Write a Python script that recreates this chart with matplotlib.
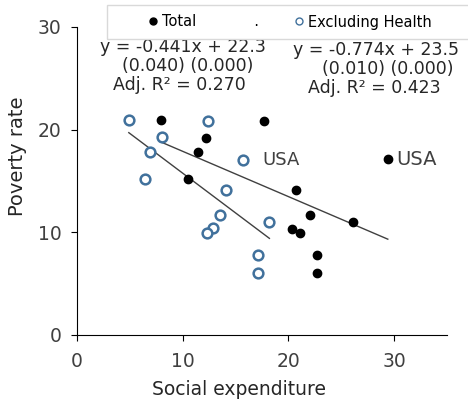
import matplotlib.pyplot as plt
from matplotlib.lines import Line2D
from matplotlib.patches import Rectangle

# Total social expenditure vs poverty rate
total_x = [7.9, 12.2, 17.7, 11.4, 10.5, 20.7, 22.0, 26.1, 20.3, 21.1, 22.7, 22.7, 29.4]
total_y = [20.9, 19.2, 20.8, 17.8, 15.2, 14.1, 11.7, 11.0, 10.3, 9.9, 7.8, 6.0, 17.1]

# Excluding health expenditure
excl_x = [4.9, 12.4, 8.0, 6.9, 6.4, 15.7, 14.1, 13.5, 12.9, 12.3, 18.2, 17.1, 17.1]
excl_y = [20.9, 20.8, 19.3, 17.8, 15.2, 17.0, 14.1, 11.7, 10.4, 9.9, 11.0, 7.8, 6.0]

# regression fits as printed on the chart
total_fit = (-0.441, 22.3)
excl_fit = (-0.774, 23.5)

blue = '#41719c'
grey_txt = '#404040'

fig = plt.figure(figsize=(4.68, 4.0), dpi=100)
ax = fig.add_axes([77/468, 65/400, 370/468, 308/400])

# fitted lines over each series' x range
x0, x1 = min(total_x), max(total_x)
ax.plot([x0, x1], [total_fit[0]*x0 + total_fit[1], total_fit[0]*x1 + total_fit[1]],
        color='#404040', lw=1)
x0, x1 = min(excl_x), max(excl_x)
ax.plot([x0, x1], [excl_fit[0]*x0 + excl_fit[1], excl_fit[0]*x1 + excl_fit[1]],
        color='#404040', lw=1)

ax.plot(total_x, total_y, 'o', color='black', ms=6, zorder=3)
ax.plot(excl_x, excl_y, 'o', mfc='white', mec=blue, mew=1.8, ms=7, zorder=3)

ax.text(total_x[-1] + 0.8, total_y[-1], 'USA', fontsize=14, color=grey_txt, va='center')
ax.text(excl_x[5] + 1.8, excl_y[5], 'USA', fontsize=13, color=grey_txt, va='center')

# equations
eq = dict(fontsize=12.5, color='#262626', va='baseline')
ax.text(2.18, 27.56, 'y = -0.441x + 22.3', **eq)
ax.text(4.26, 25.71, '(0.040) (0.000)', **eq)
ax.text(3.41, 23.86, 'Adj. R² = 0.270', **eq)
ax.text(20.43, 27.27, 'y = -0.774x + 23.5', **eq)
ax.text(23.18, 25.42, '(0.010) (0.000)', **eq)
ax.text(21.85, 23.57, 'Adj. R² = 0.423', **eq)

ax.set_xlim(0, 35)
ax.set_ylim(0, 30)
ax.set_xticks([0, 10, 20, 30])
ax.set_yticks([0, 10, 20, 30])
ax.tick_params(labelsize=13.5, labelcolor='#404040', color='black', length=4)
ax.tick_params(axis='x', pad=8)
ax.tick_params(axis='y', pad=7)
for s in ['top', 'right']:
    ax.spines[s].set_visible(False)
for s in ['left', 'bottom']:
    ax.spines[s].set_color('black')
ax.set_xlabel('Social expenditure', fontsize=13.5, color='#262626', labelpad=6)
ax.set_ylabel('Poverty rate', fontsize=14, color='#262626', labelpad=6)
ax.xaxis.set_label_coords(0.438, -0.145)
ax.yaxis.set_label_coords(-0.135, 0.58)

# legend box
fig.patches.append(Rectangle((107/468, 1 - 39/400), 370/468, 34/400,
                             transform=fig.transFigure, fill=False,
                             ec='#d9d9d9', lw=1))
handles = [Line2D([], [], ls='', marker='o', color='black', ms=5),
           Line2D([], [], ls='', marker=''),
           Line2D([], [], ls='', marker='o', mfc='white', mec=blue, mew=1, ms=5)]
fig.legend(handles, ['Total', '  .', 'Excluding Health'], ncol=3, frameon=False,
           loc='center left', bbox_to_anchor=(149/468, 1 - 22/400),
           fontsize=10.5, handlelength=0.6, handletextpad=0.3,
           columnspacing=2.45, borderpad=0, borderaxespad=0)

fig.savefig('out.png', dpi=100)
